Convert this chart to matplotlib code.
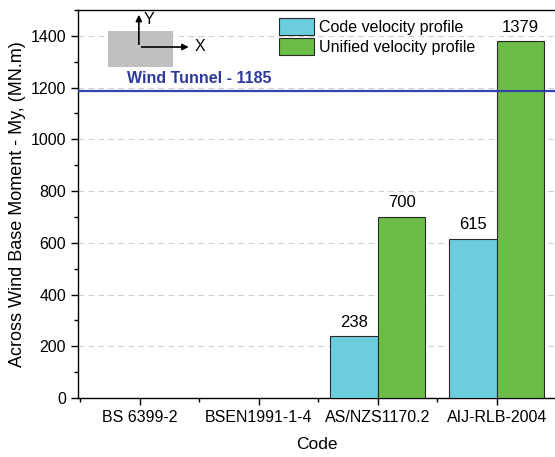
import matplotlib.pyplot as plt
import numpy as np
from matplotlib.patches import Rectangle, FancyArrowPatch
from matplotlib.ticker import MultipleLocator, FixedLocator

plt.rcParams['font.family'] = ['Liberation Sans', 'DejaVu Sans']

codes = ["BS 6399-2", "BSEN1991-1-4", "AS/NZS1170.2", "AIJ-RLB-2004"]
code_profile = [np.nan, np.nan, 238, 615]
unified_profile = [np.nan, np.nan, 700, 1379]
wind_tunnel = 1185

fig = plt.figure(figsize=(5.55, 4.57), dpi=100)
ax = fig.add_axes([78 / 555, 59 / 457, 477 / 555, 388 / 457])

x = np.arange(len(codes))
w = 0.4
b1 = ax.bar(x - w / 2, code_profile, w, color="#6ccddc", edgecolor="#2a2a2a",
            linewidth=0.8, label="Code velocity profile", zorder=3)
b2 = ax.bar(x + w / 2, unified_profile, w, color="#6cbd45", edgecolor="#2a2a2a",
            linewidth=0.8, label="Unified velocity profile", zorder=3)

for bars, vals in ((b1, code_profile), (b2, unified_profile)):
    for r, v in zip(bars, vals):
        if not np.isnan(v):
            ax.text(r.get_x() + r.get_width() / 2, v + 25, f"{v:.0f}",
                    ha="center", va="bottom", fontsize=12, zorder=4)

# wind tunnel reference line
ax.axhline(wind_tunnel, color="#3344a8", linewidth=1.6, zorder=4)
ax.text(0.5, wind_tunnel + 52, f"Wind Tunnel - {wind_tunnel}", color="#2e3a9a",
        fontsize=11.5, fontweight="bold", ha="center", va="center")

ax.set_xlim(-0.52, 3.49)
ax.set_ylim(0, 1500)
ax.set_xticks(x)
ax.set_xticklabels(codes, fontsize=11.5)
ax.xaxis.set_minor_locator(FixedLocator([-0.5, 0.5, 1.5, 2.5]))
ax.set_yticks(np.arange(0, 1401, 200))
ax.yaxis.set_minor_locator(MultipleLocator(100))
ax.tick_params(axis="y", labelsize=11.5)
ax.tick_params(which="major", direction="out", length=5, width=1)
ax.tick_params(which="minor", direction="out", length=3, width=1)
ax.yaxis.grid(True, which="major", linestyle=(0, (5, 4)), color="#cfcfcf",
              linewidth=0.8, zorder=0)
ax.set_axisbelow(True)
ax.spines["right"].set_visible(False)
for s in ("left", "bottom", "top"):
    ax.spines[s].set_linewidth(1.0)

ax.set_xlabel("Code", fontsize=12.5, labelpad=9)
ax.set_ylabel("Across Wind Base Moment - My, (MN.m)", fontsize=13, labelpad=3)

ax.legend(loc="upper left", bbox_to_anchor=(0.397, 1.008), frameon=False,
          fontsize=11.5, handlelength=2.2, handleheight=1.3,
          handletextpad=0.35, labelspacing=0.15, borderaxespad=0.3)

# section sketch with axis arrows
T = ax.transAxes
ax.add_patch(Rectangle((0.063, 0.853), 0.137, 0.093, transform=T,
                       facecolor="#c0c0c0", edgecolor="none", zorder=5))
ax.add_patch(FancyArrowPatch((0.1276, 0.9046), (0.1276, 0.995), transform=T,
                             arrowstyle="-|>", mutation_scale=9, color="black",
                             linewidth=1.2, zorder=6))
ax.add_patch(FancyArrowPatch((0.1276, 0.9046), (0.238, 0.9046), transform=T,
                             arrowstyle="-|>", mutation_scale=9, color="black",
                             linewidth=1.2, zorder=6))
ax.text(0.137, 0.975, "Y", transform=T, fontsize=11.5, va="center", ha="left")
ax.text(0.245, 0.905, "X", transform=T, fontsize=11.5, va="center", ha="left")

fig.savefig("out.png", dpi=100)
